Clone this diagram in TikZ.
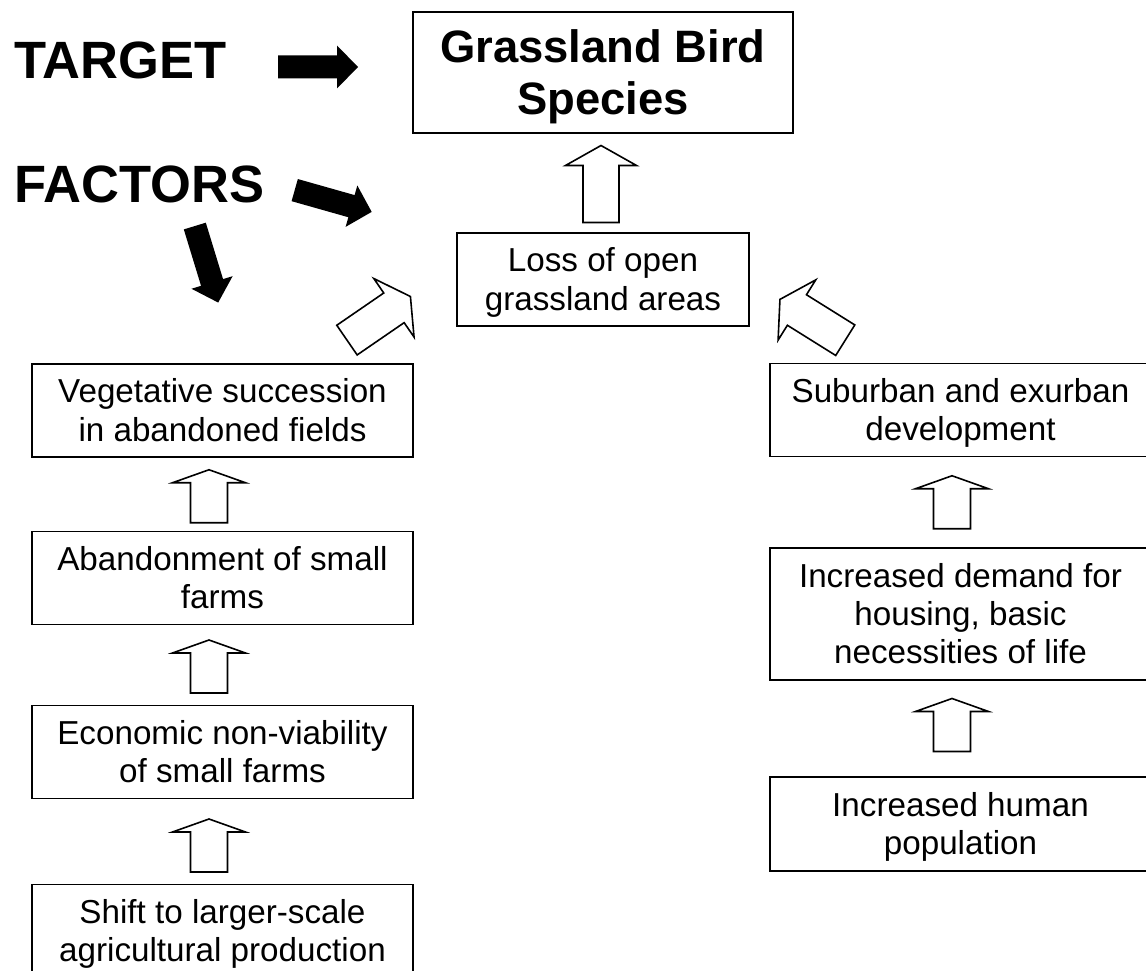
\documentclass[tikz,border=0pt]{standalone}
\usepackage{fontspec}
\setmainfont{Liberation Sans}
\usetikzlibrary{calc}
% strut with the font's full ascent and descent, one per text line
\newcommand\lnst{\rule[-0.212em]{0pt}{1.117em}}
\tikzset{
  causebox/.style={draw, line width=1.8pt, rectangle, fill=white,
    minimum width=381pt, minimum height=93pt, inner sep=0pt, align=center,
    font=\fontsize{33.2}{37}\selectfont},
  titlebox/.style={causebox, minimum width=380pt, minimum height=121pt,
    font=\bfseries\fontsize{45.4}{50}\selectfont},
  biglabel/.style={inner sep=0pt, font=\bfseries\fontsize{52.5}{56}\selectfont},
  hollow/.style={draw, fill=white, line width=1.6pt, line join=miter},
  solid arrow/.style={fill=black, draw=none},
  pics/bigup/.style={code={
    \path[hollow] (0,-38.5) -- (35.5,-18.5) -- (18,-18.5) -- (18,38.5)
      -- (-18,38.5) -- (-18,-18.5) -- (-35.5,-18.5) -- cycle;}},
  pics/flatup/.style={code={
    \path[hollow] (0,-26.5) -- (36.5,-13.5) -- (18.5,-13.5) -- (18.5,26.5)
      -- (-18.5,26.5) -- (-18.5,-13.5) -- (-36.5,-13.5) -- cycle;}},
  pics/blackarrow/.style={code={
    \path[solid arrow] (40,0) -- (19,21.5) -- (19,11.5) -- (-40,11.5)
      -- (-40,-11.5) -- (19,-11.5) -- (19,-21.5) -- cycle;}},
}
\begin{document}
\begin{tikzpicture}[x=1pt, y=-1pt]
\useasboundingbox (0,0) rectangle (1146,971);
\clip (0,0) rectangle (1146,971);

% labels
\node[biglabel, anchor=base west] (tlabel) at (14,79) {TARGET};
\node[biglabel, anchor=base west] (flabel) at (14,202) {FACTORS};

% target and central factor
\node[titlebox] (target) at (603,72.5) {\lnst Grassland Bird\\\lnst Species};
\node[causebox, minimum width=292pt] (loss) at (603,279.5)
  {\lnst Loss of open\\\lnst grassland areas};

% agricultural chain
\node[causebox] (veg) at (222.5,410.5)
  {\lnst Vegetative succession\\\lnst in abandoned fields};
\node[causebox] (aband) at (222.5,578)
  {\lnst Abandonment of small\\\lnst farms};
\node[causebox] (econ) at (222.5,752)
  {\lnst Economic non-viability\\\lnst of small farms};
\node[causebox] (shift) at (222.5,931)
  {\lnst Shift to larger-scale\\\lnst agricultural production};

% development chain
\node[causebox] (suburb) at (960.5,410)
  {\lnst Suburban and exurban\\\lnst development};
\node[causebox, minimum height=132pt] (demand) at (960.5,614)
  {\lnst Increased demand for\\\lnst housing, basic\\\lnst necessities of life};
\node[causebox, minimum height=94pt] (human) at (960.5,824)
  {\lnst Increased human\\\lnst population};

% black pointers
\pic at (318,67) {blackarrow};
\pic[rotate=-15.8] at (333.2,201) {blackarrow};
\pic[rotate=-73] at (206.5,264.3) {blackarrow};

% hollow block arrows
\pic at ($(loss.north)!.5!(target.south)+(-2,1)$) {bigup};
\pic[rotate=-55.5] at (378.7,318.3) {bigup};
\pic[rotate=58] at (812.6,319.8) {bigup};

\pic at ($(veg.south)!.5!(aband.north)+(-13.5,2)$) {flatup};
\pic at ($(aband.south)!.5!(econ.north)+(-13.5,1.5)$) {flatup};
\pic at ($(econ.south)!.5!(shift.north)+(-13.5,4)$) {flatup};

\pic at ($(suburb.south)!.5!(demand.north)+(-8.5,0)$) {flatup};
\pic at ($(demand.south)!.5!(human.north)+(-8.5,-3.5)$) {flatup};
\end{tikzpicture}
\end{document}
